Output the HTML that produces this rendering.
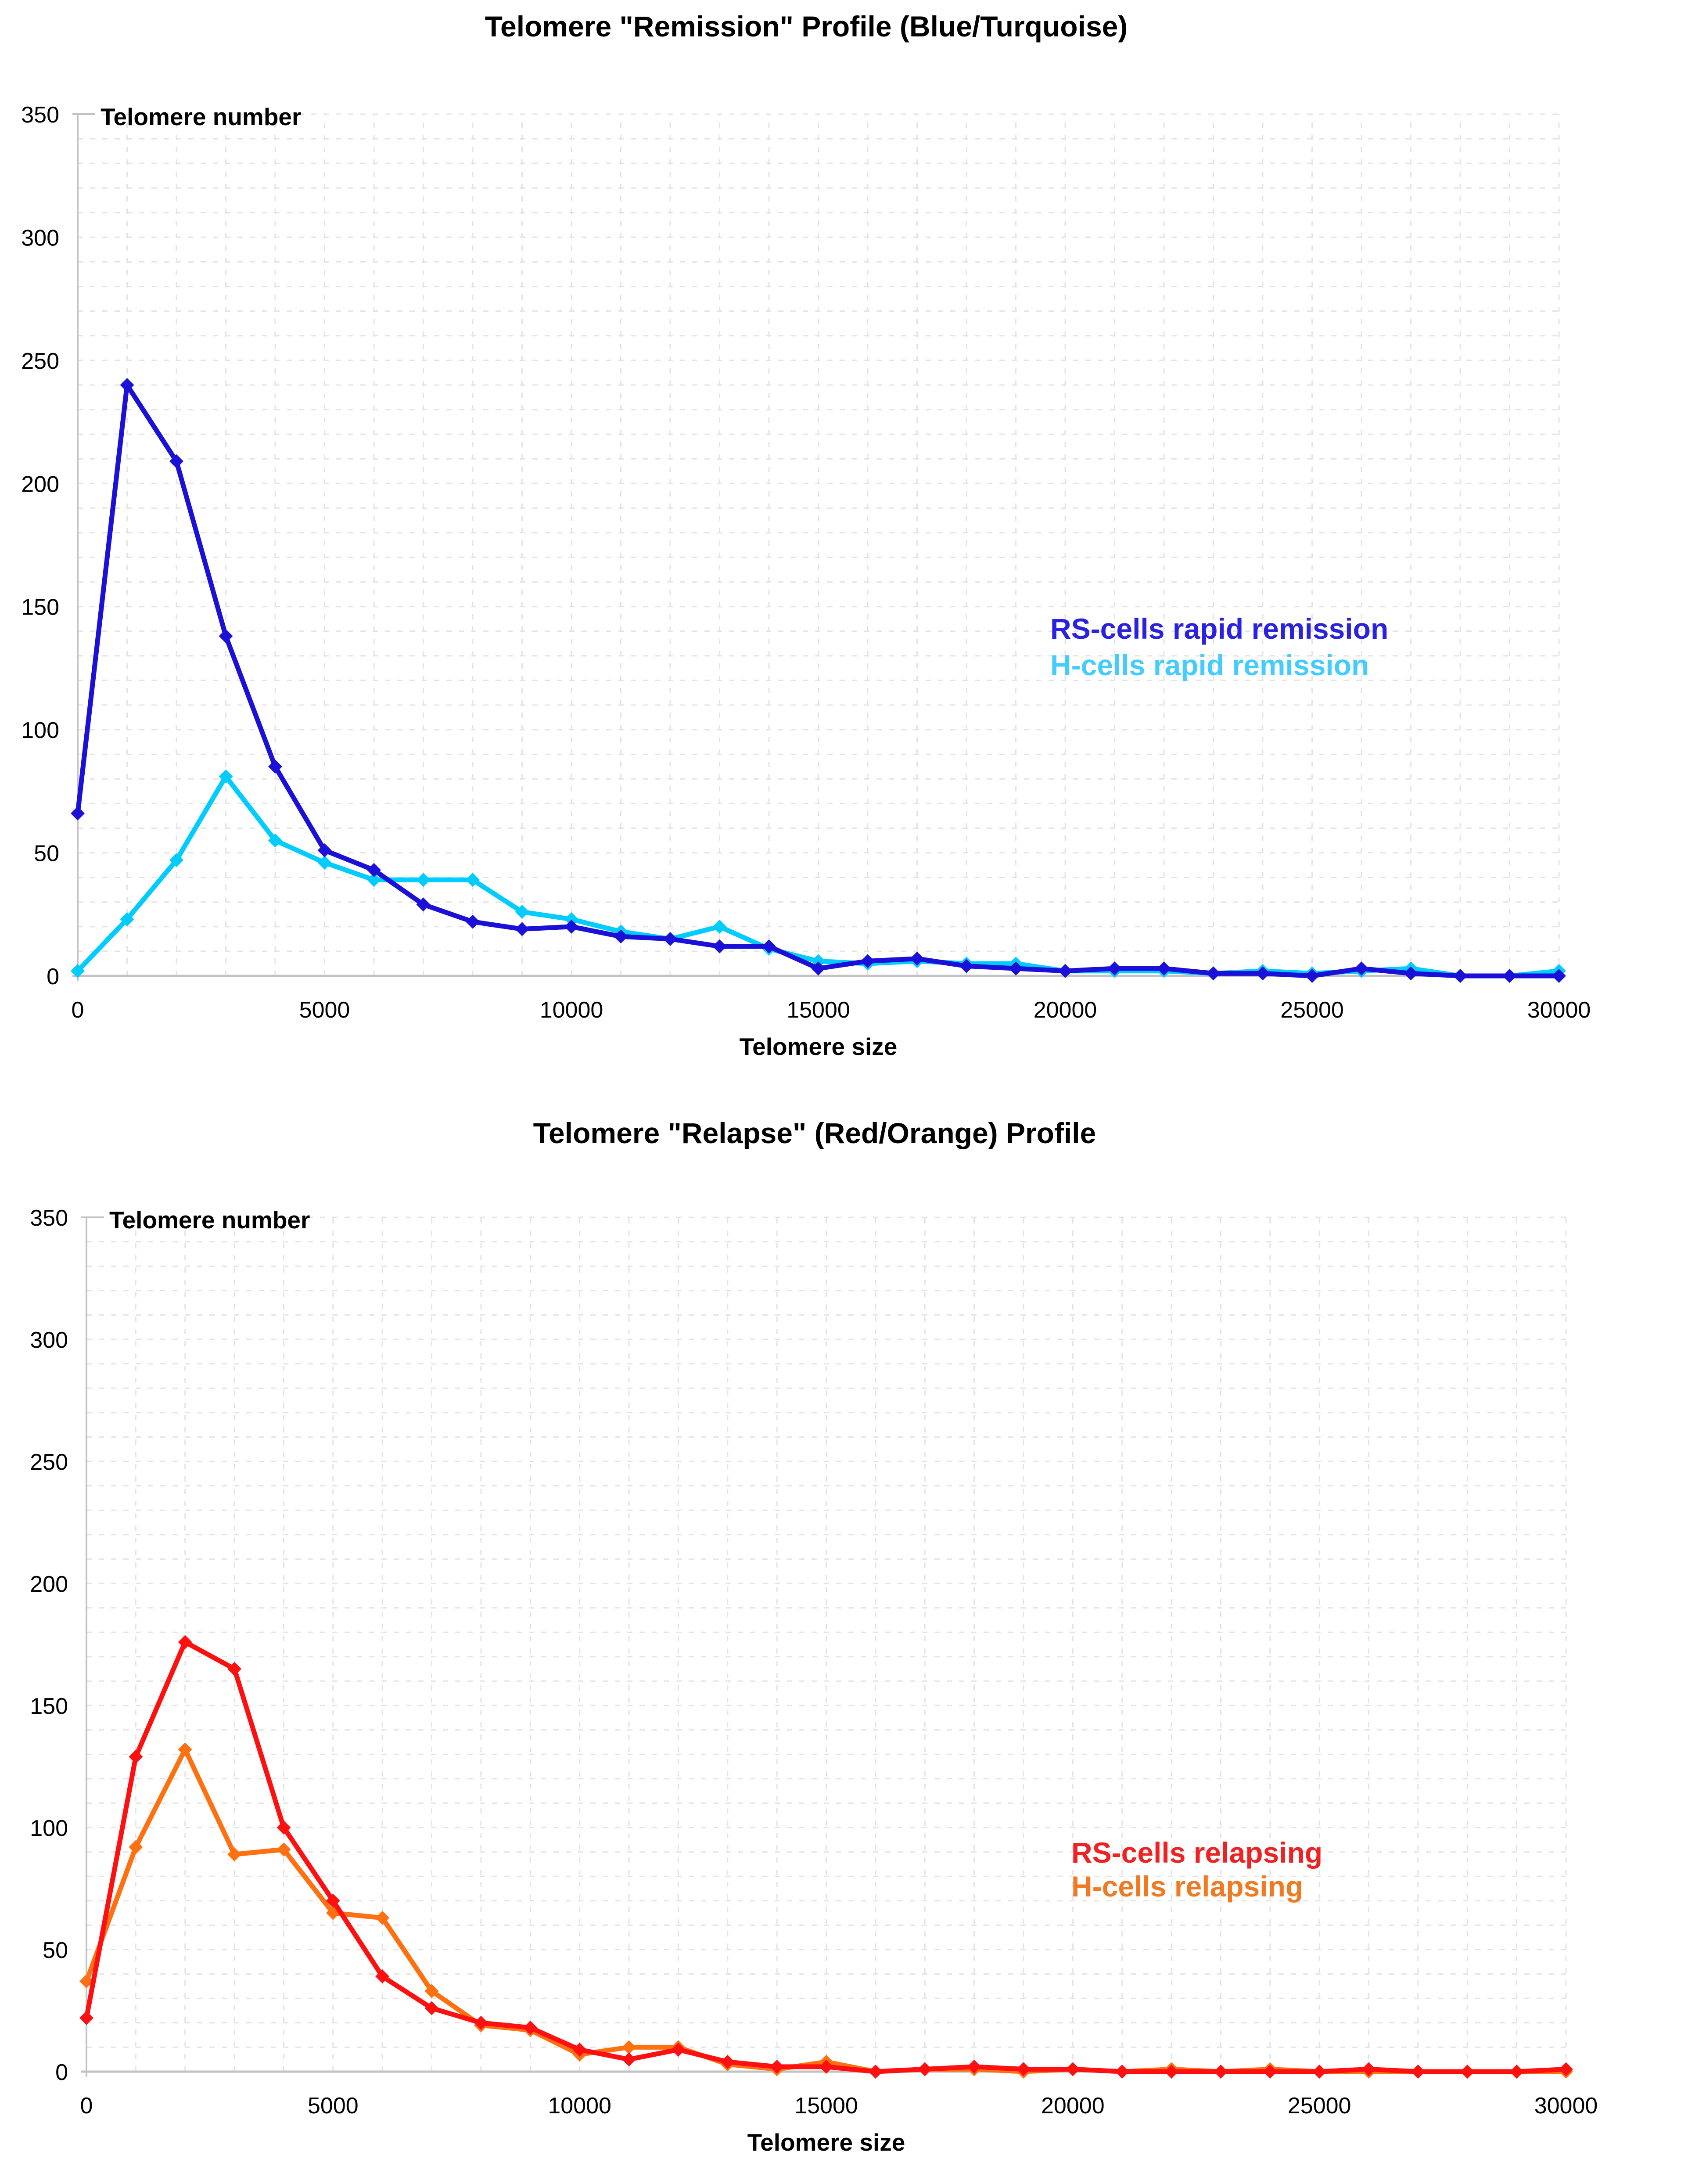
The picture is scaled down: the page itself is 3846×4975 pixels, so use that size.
<!DOCTYPE html>
<html><head><meta charset="utf-8"><style>
html,body{margin:0;padding:0;background:#fff;}
svg{display:block;font-family:"Liberation Sans",Arial,sans-serif;}
</style></head><body>
<svg id="root" width="3846" height="4975" viewBox="0 0 3846 4975" xmlns="http://www.w3.org/2000/svg">
<rect width="3846" height="4975" fill="#fff"/>
</svg>
<script>
const xCategories = [0,1000,2000,3000,4000,5000,6000,7000,8000,9000,10000,11000,12000,13000,14000,15000,16000,17000,18000,19000,20000,21000,22000,23000,24000,25000,26000,27000,28000,29000,30000];
const remissionRS = [66,240,209,138,85,51,43,29,22,19,20,16,15,12,12,3,6,7,4,3,2,3,3,1,1,0,3,1,0,0,0];
const remissionH = [2,23,47,81,55,46,39,39,39,26,23,18,15,20,11,6,5,6,5,5,2,2,2,1,2,1,2,3,0,0,2];
const relapseRS = [22,129,176,165,100,70,39,26,20,18,9,5,9,4,2,2,0,1,2,1,1,0,0,0,0,0,1,0,0,0,1];
const relapseH = [37,92,132,89,91,65,63,33,19,17,7,10,10,3,1,4,0,1,1,0,1,0,1,0,1,0,0,0,0,0,0];
const yTicks = [0,50,100,150,200,250,300,350];
const xTicks = [0,5000,10000,15000,20000,25000,30000];

const NS = "http://www.w3.org/2000/svg";
const root = document.getElementById('root');
function mk(tag, attrs, parent){
  const e = document.createElementNS(NS, tag);
  for (const k in attrs) e.setAttribute(k, attrs[k]);
  (parent||root).appendChild(e);
  return e;
}

function drawChart(cfg){
  const g = mk('g', {});
  
  
  const xS = v => cfg.x0 + (v - 0) / 30000 * (cfg.x1 - cfg.x0);
  const yS = v => cfg.y0 - v / 350 * (cfg.y0 - cfg.y1);

  for (let v = 10; v <= 350; v += 10) {
    const l = mk('line', {x1: cfg.x0, x2: cfg.x1, y1: yS(v), y2: yS(v), stroke: '#e4e4e4', 'stroke-width': 3, 'stroke-dasharray': '12 16'}, g);
    
    
  }
  for (let v = 1000; v <= 30000; v += 1000) {
    const l = mk('line', {x1: xS(v), x2: xS(v), y1: cfg.y0, y2: cfg.y1, stroke: '#e4e4e4', 'stroke-width': 3, 'stroke-dasharray': '12 16'}, g);
    
    
  }
  const ya = mk('line', {x1: cfg.x0, x2: cfg.x0, y1: cfg.y1, y2: cfg.y0 + 12, stroke: '#c2c2c2', 'stroke-width': 4}, g);
  
  
  const xa = mk('line', {x1: cfg.x0 - 12, x2: cfg.x1, y1: cfg.y0, y2: cfg.y0, stroke: '#c2c2c2', 'stroke-width': 5}, g);
  
  
  const tk = mk('line', {x1: cfg.x0 - 12, x2: cfg.x0 + 40, y1: cfg.y1, y2: cfg.y1, stroke: '#c2c2c2', 'stroke-width': 4}, g);
  
  

  yTicks.forEach(v => {
    const t = mk('text', {x: cfg.x0 - 42, y: yS(v) + 19, 'text-anchor': 'end', 'font-size': 52, fill: '#000'}, g);
    t.textContent = v;
    
    
  });
  xTicks.forEach(v => {
    const t = mk('text', {x: xS(v), y: cfg.y0 + 95, 'text-anchor': 'middle', 'font-size': 52, fill: '#000'}, g);
    t.textContent = v;
    
    
  });

  const tt = mk('text', {x: cfg.titleX, y: cfg.titleY, 'text-anchor': 'middle', 'font-size': 66, 'font-weight': 'bold', fill: '#000'}, g);
  tt.textContent = cfg.title;
  
  
  const yt = mk('text', {x: cfg.x0 + 52, y: cfg.y1 + 25, 'font-size': 55, 'font-weight': 'bold', fill: '#000'}, g);
  yt.textContent = 'Telomere number';
  
  
  const xt = mk('text', {x: (cfg.x0 + cfg.x1) / 2, y: cfg.y0 + 180, 'text-anchor': 'middle', 'font-size': 55, 'font-weight': 'bold', fill: '#000'}, g);
  xt.textContent = 'Telomere size';
  
  

  cfg.series.forEach(s => {
    const pts = s.values.map((v, i) => xS(xCategories[i]) + ',' + yS(v)).join(' ');
    const pl = mk('polyline', {points: pts, fill: 'none', stroke: s.color, 'stroke-width': 11, 'stroke-linejoin': 'round'}, g);
    
    
    s.values.forEach((v, i) => {
      const cx = xS(xCategories[i]), cy = yS(v), r = 16;
      const m = mk('polygon', {points: `${cx},${cy-r} ${cx+r},${cy} ${cx},${cy+r} ${cx-r},${cy}`, fill: s.color}, g);
      
      
    });
  });
  cfg.legend.forEach(l => {
    const t = mk('text', {x: l.x, y: l.y, 'font-size': 66, 'font-weight': 'bold', fill: l.color}, g);
    t.textContent = l.text;
    
    
  });
}

drawChart({
  name: 'remission-chart', x0: 177, x1: 3552, y0: 2223, y1: 260,
  title: 'Telomere "Remission" Profile (Blue/Turquoise)', titleX: 1837, titleY: 83,
  series: [
    {id: 'h-cells-remission', values: remissionH, color: '#00ccff'},
    {id: 'rs-cells-remission', values: remissionRS, color: '#1a10d8'}
  ],
  legend: [
    {text: 'RS-cells rapid remission', x: 2393, y: 1455, color: '#2a22e0'},
    {text: 'H-cells rapid remission', x: 2393, y: 1538, color: '#44ccff'}
  ]
});
drawChart({
  name: 'relapse-chart', x0: 197, x1: 3568, y0: 4719, y1: 2773,
  title: 'Telomere "Relapse" (Red/Orange) Profile', titleX: 1856, titleY: 2604,
  series: [
    {id: 'h-cells-relapsing', values: relapseH, color: '#ff7010'},
    {id: 'rs-cells-relapsing', values: relapseRS, color: '#ff1010'}
  ],
  legend: [
    {text: 'RS-cells relapsing', x: 2441, y: 4243, color: '#ee2222'},
    {text: 'H-cells relapsing', x: 2441, y: 4320, color: '#f07a22'}
  ]
});
</script>
</body></html>
